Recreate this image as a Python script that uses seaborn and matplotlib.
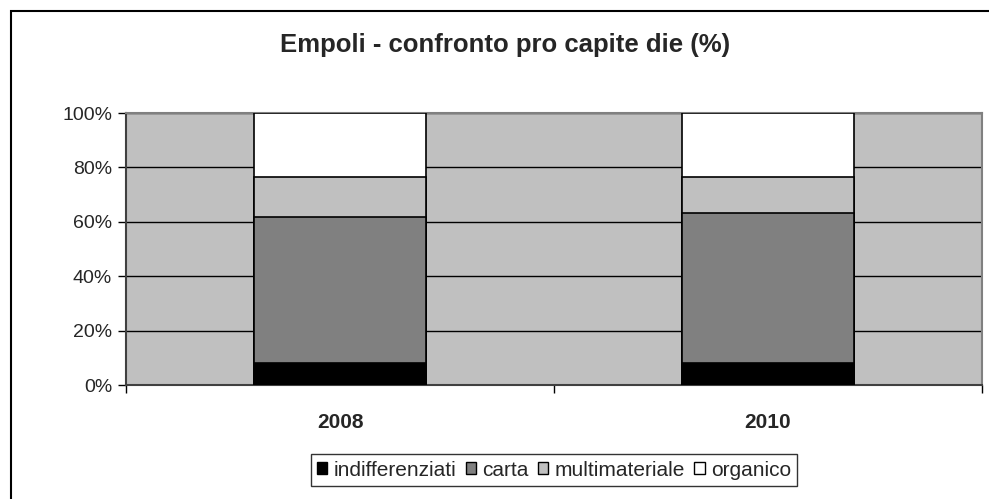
import numpy as np
import pandas as pd
import matplotlib
matplotlib.use("Agg")
import matplotlib.pyplot as plt
from matplotlib.patches import Rectangle, Patch
from matplotlib.ticker import FixedLocator
import seaborn as sns

# data (share in %, bottom to top)
anni = ["2008", "2010"]
indifferenziati = [8.2, 8.2]
carta = [53.6, 55.0]
multimateriale = [14.7, 13.3]
organico = [23.5, 23.5]

serie = ["indifferenziati", "carta", "multimateriale", "organico"]
colori = ["#000000", "#808080", "#C0C0C0", "#FFFFFF"]

sns.set_theme(style = "white")
plt.rcParams["font.family"] = ["Liberation Sans", "DejaVu Sans"]

df = pd.DataFrame({"anno": anni, "indifferenziati": indifferenziati, "carta": carta,
                   "multimateriale": multimateriale, "organico": organico})
cum = df[serie].cumsum(axis = 1)

fig = plt.figure(figsize = (9.89, 4.99), dpi = 100)
ax = fig.add_axes([126 / 989, 1 - 385 / 499, (982 - 126) / 989, (385 - 113) / 499])
ax.set_facecolor("#C0C0C0")

# stacked bars: draw cumulative totals from the top down so each layer covers the next
for s, c in reversed(list(zip(serie, colori))):
    sns.barplot(x = df["anno"], y = cum[s], color = c, width = 0.4, saturation = 1,
                edgecolor = "black", linewidth = 1.2, ax = ax, zorder = 3)

ax.set_xlim(-0.5, 1.5)
ax.set_ylim(0, 100)
ax.set_yticks(range(0, 101, 20))
ax.set_yticklabels([f"{v}%" for v in range(0, 101, 20)], fontsize = 14)
ax.yaxis.grid(True, color = "black", linewidth = 1.0, zorder = 1)
ax.set_axisbelow(True)

ax.set_xticks([0, 1])
ax.set_xticklabels(anni, fontsize = 15, fontweight = "bold")
ax.xaxis.set_minor_locator(FixedLocator([-0.5, 0.5, 1.5]))
ax.tick_params(axis = "x", which = "major", length = 0, pad = 20)
ax.tick_params(axis = "x", which = "minor", length = 6, width = 1, color = "black", bottom = True)
ax.tick_params(axis = "y", length = 6, width = 1, color = "black", left = True, pad = 4)
ax.set_xlabel("")
ax.set_ylabel("")

for side in ["top", "right"]:
    ax.spines[side].set_color("#808080")
    ax.spines[side].set_linewidth(1.5)
for side in ["left", "bottom"]:
    ax.spines[side].set_color("#404040")
    ax.spines[side].set_linewidth(1.5)

fig.text(505 / 989, 1 - 45 / 499, "Empoli - confronto pro capite die (%)",
         ha = "center", va = "center", fontsize = 18.5, fontweight = "bold")

handles = [Patch(facecolor = c, edgecolor = "black", linewidth = 1) for c in colori]
leg = fig.legend(handles, serie, loc = "center", bbox_to_anchor = (554 / 989, 1 - 470 / 499),
                 ncol = 4, fontsize = 15, frameon = True, fancybox = False,
                 handlelength = 0.5, handleheight = 0.5, handletextpad = 0.3,
                 columnspacing = 0.45, borderpad = 0.3)
leg.get_frame().set_edgecolor("black")
leg.get_frame().set_linewidth(1)

# outer chart border (runs off the right and bottom of the image)
fig.patches.append(Rectangle((11 / 989, -0.2), 1.5, 1.2 - 11 / 499, fill = False,
                             edgecolor = "black", linewidth = 1.5, transform = fig.transFigure))

fig.savefig("out.png", dpi = 100)
